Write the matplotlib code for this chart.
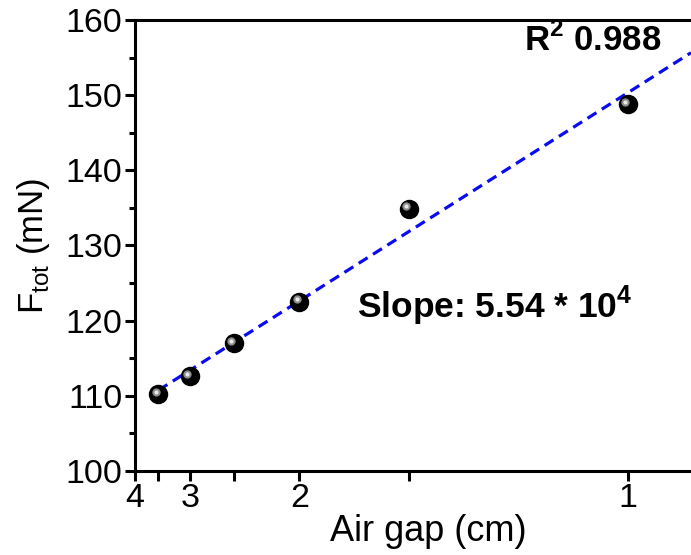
import matplotlib
matplotlib.use("Agg")
import matplotlib.pyplot as plt
import numpy as np

plt.rcParams['font.family'] = ['Liberation Sans', 'DejaVu Sans']
plt.rcParams['mathtext.fontset'] = 'custom'
plt.rcParams['mathtext.rm'] = 'Liberation Sans'
plt.rcParams['mathtext.bf'] = 'Liberation Sans:bold'

# data
air_gap = np.array([3.5, 3.0, 2.5, 2.0, 1.5, 1.0])          # cm
f_tot = np.array([110.2, 112.6, 117.0, 122.5, 134.9, 148.8])  # mN
gap_ticks = [4, 3.5, 3, 2.5, 2, 1.5, 1]
gap_labels = ['4', '', '3', '', '2', '', '1']
r2_text = r'R$^{\mathbf{2}}$ 0.988'
slope_text = r'Slope: 5.54 * 10$^{\mathbf{4}}$'

inv_gap = 1.0 / air_gap

fig = plt.figure(figsize=(6.91, 5.55), dpi=100)
ax = fig.add_axes([0.1954, 0.1514, 0.8046, 0.8126])

# linear fit against 1/gap
k, b = np.polyfit(inv_gap, f_tot, 1)
xl = (0.25, 1.096)
xfit = np.array([inv_gap.min(), xl[1]])
ax.plot(xfit, k * xfit + b, color='#0b0bf0', lw=2.3, ls=(0, (3.3, 2)), zorder=2)

# sphere-like markers
ax.plot(inv_gap, f_tot, 'o', color='black', ms=13, zorder=3)
ax.plot(inv_gap - 0.004, f_tot + 0.35, 'o', color='#8a8a8a', ms=6, mec='none', zorder=4)
ax.plot(inv_gap - 0.004, f_tot + 0.35, 'o', color='#e8e8e8', ms=3, mec='none', zorder=5)

ax.set_xlim(*xl)
ax.set_ylim(100, 160)
ax.set_xticks([1.0 / g for g in gap_ticks])
ax.set_xticklabels(gap_labels)
ax.set_yticks(np.arange(100, 161, 10))
ax.set_yticks(np.arange(105, 160, 10), minor=True)

for s in ['left', 'bottom', 'top']:
    ax.spines[s].set_linewidth(2.2)
ax.spines['right'].set_visible(False)
ax.tick_params(axis='both', which='major', direction='out', length=7, width=2.2,
               labelsize=24.5, pad=2)
ax.tick_params(axis='y', which='minor', direction='out', length=4.5, width=2.2)

ax.set_xlabel('Air gap (cm)', fontsize=26, labelpad=-1)
ax.xaxis.set_label_coords(0.527, -0.095)
ax.set_ylabel(r'F$_{\mathregular{tot}}$ (mN)', fontsize=25, labelpad=10)

ax.text(0.70, 0.955, r2_text, transform=ax.transAxes, fontsize=25,
        fontweight='bold', ha='left', va='center')
ax.text(0.400, 0.365, slope_text, transform=ax.transAxes, fontsize=25.5,
        fontweight='bold', ha='left', va='center')

fig.savefig('out.png', dpi=100)
